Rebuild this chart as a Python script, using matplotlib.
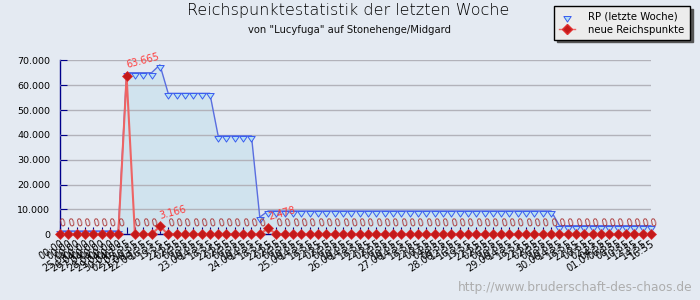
import matplotlib
matplotlib.use('Agg')
import matplotlib.pyplot as plt
from matplotlib.lines import Line2D
from matplotlib.ticker import FuncFormatter

# Reichspunkte der letzten Woche (gleitende Summe), ein Wert je Messpunkt
rp_woche = [
    1335, 1335, 1335, 1335, 1335, 1335, 1335, 1335,      # 25.04. - 21.06.
    65000, 65000, 65000, 65000, 68166, 56700,            # 22.06.
    56700, 56700, 56700, 56700, 56700, 39600,            # 23.06.
    39600, 39600, 39600, 39600, 6900, 9378,              # 24.06.
    9378, 9378, 9378, 9378, 9378, 9378,                  # 25.06.
    9378, 9378, 9378, 9378, 9378, 9378,                  # 26.06.
    9378, 9378, 9378, 9378, 9378, 9378,                  # 27.06.
    9378, 9378, 9378, 9378, 9378, 9378, 9378,            # 28.06.
    9378, 9378, 9378, 9378, 9378, 9378,                  # 29.06.
    9378, 9378, 9378, 3470, 3470, 3470,                  # 30.06.
    3470, 3470, 3470, 3470, 3470, 3470, 3470, 3470, 3470 # 01.07.
]

# neu dazugekommene Reichspunkte je Messpunkt
neue_rp = [
    0, 0, 0, 0, 0, 0, 0, 0,
    63665, 0, 0, 0, 3166, 0,
    0, 0, 0, 0, 0, 0,
    0, 0, 0, 0, 0, 2478,
    0, 0, 0, 0, 0, 0,
    0, 0, 0, 0, 0, 0,
    0, 0, 0, 0, 0, 0,
    0, 0, 0, 0, 0, 0, 0,
    0, 0, 0, 0, 0, 0,
    0, 0, 0, 0, 0, 0,
    0, 0, 0, 0, 0, 0, 0, 0, 0
]

x_labels = [
    '00:00\n25.04.', '00:00\n26.04.', '00:00\n27.04.', '00:00\n28.04.',
    '00:00\n29.04.', '00:00\n30.04.', '00:00\n02.05.', '00:00\n21.06.',
    '07:55\n22.06.', '10:55', '13:55', '16:55', '19:55', '22:55',
    '02:55\n23.06.', '06:55', '10:55', '14:55', '18:55', '22:55',
    '02:55\n24.06.', '06:55', '10:55', '14:55', '18:55', '22:55',
    '02:55\n25.06.', '06:55', '10:55', '14:55', '18:55', '22:55',
    '02:55\n26.06.', '06:55', '10:55', '14:55', '18:55', '22:55',
    '02:55\n27.06.', '06:55', '10:55', '14:55', '18:55', '22:55',
    '00:55\n28.06.', '04:55', '08:55', '12:55', '16:55', '19:55', '22:55',
    '02:55\n29.06.', '06:55', '10:55', '14:55', '18:55', '22:55',
    '02:55\n30.06.', '06:55', '10:55', '14:55', '18:55', '22:55',
    '00:55\n01.07.', '02:55', '04:55', '06:55', '08:55', '10:55', '12:55', '14:55', '16:55'
]

bg = '#e4eaf2'
navy = '#00008b'

def de_zahl(v):
    return f"{int(v):,}".replace(',', '.')

# Dreieck mit der Spitze nach unten, oberer Rand auf dem Datenpunkt
tri = [(-1, 0), (1, 0), (0, -1.5), (-1, 0)]

fig = plt.figure(figsize=(7, 3), dpi=100, facecolor=bg)
ax = fig.add_axes([60 / 700, 1 - 234.3 / 300, 591 / 700, 174 / 300])
ax.set_facecolor(bg)

x = list(range(len(rp_woche)))

ax.fill_between(x, rp_woche, 0, color='#d0e3ee', zorder=1, linewidth=0)
ax.plot(x, rp_woche, color='#5a6ee0', lw=1, zorder=3,
        marker=tri, markersize=8, markerfacecolor='#b4e0f2',
        markeredgecolor='#3a5cf0', markeredgewidth=0.7, clip_on=False)

ax.plot(x, neue_rp, color='#ee6464', lw=1.5, zorder=4,
        marker='D', markersize=5.2, markerfacecolor='#c41a1a',
        markeredgecolor='#e03030', markeredgewidth=0.5, clip_on=False)

for i, v in enumerate(neue_rp):
    ax.annotate(de_zahl(v), (i, v), xytext=(1, 4.2), textcoords='offset points',
                ha='left', va='bottom', rotation=15, rotation_mode='anchor',
                fontsize=7, color='#ff3c3c' if v else '#a83030',
                zorder=6, annotation_clip=False)

ax.set_xlim(0, len(x) - 1)
ax.set_ylim(0, 70000)
ax.set_yticks([0, 10000, 20000, 30000, 40000, 50000, 60000, 70000])
ax.yaxis.set_major_formatter(FuncFormatter(lambda v, p: de_zahl(v)))
ax.set_xticks(x)
ax.set_xticklabels(x_labels, rotation=33, ha='right', va='top',
                   rotation_mode='anchor', fontsize=7, linespacing=1.2)

ax.set_axisbelow(False)
ax.yaxis.grid(True, color='#b2b2ba', lw=1)
ax.xaxis.grid(False)

for s in ['top', 'right']:
    ax.spines[s].set_visible(False)
for s in ['left', 'bottom']:
    ax.spines[s].set_color(navy)
    ax.spines[s].set_linewidth(1)

ax.tick_params(axis='y', direction='in', length=5, color=navy, pad=7, labelsize=6.8)
ax.tick_params(axis='x', direction='in', length=5, color=navy, pad=3)

fig.text(0.497, 0.966, 'Reichspunktestatistik der letzten Woche', ha='center', va='center',
         fontsize=11.5, fontweight='light', color='#000000')
fig.text(0.499, 0.9, 'von "Lucyfuga" auf Stonehenge/Midgard', ha='center', va='center',
         fontsize=7.2, color='#101010')

handles = [
    Line2D([], [], linestyle='none', marker=tri, markersize=8,
           markerfacecolor='#b4e0f2', markeredgecolor='#3a5cf0', markeredgewidth=0.7),
    Line2D([], [], color='#ee6464', lw=1, marker='D', markersize=5,
           markerfacecolor='#c41a1a', markeredgecolor='#e03030'),
]
fig.legend(handles, ['RP (letzte Woche)', 'neue Reichspunkte'],
           loc='upper left', bbox_to_anchor=(554 / 700, 1 - 6 / 300),
           bbox_transform=fig.transFigure, fontsize=7.3, frameon=True,
           fancybox=False, facecolor='#ececec', edgecolor='#000000', framealpha=1,
           shadow={'facecolor': '#555555', 'edgecolor': '#555555', 'alpha': 1},
           borderpad=0.5, handlelength=1.6, handletextpad=1.3, labelspacing=0.35,
           borderaxespad=0)

fig.text(0.989, 0.04, 'http://www.bruderschaft-des-chaos.de', ha='right', va='center',
         fontsize=8.8, color='#adadad')

fig.savefig('out.png', dpi=100, facecolor=bg)
